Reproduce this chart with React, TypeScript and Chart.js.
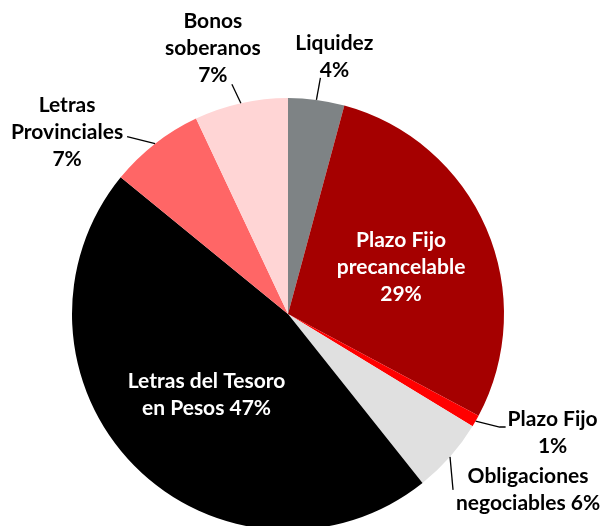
import React, { useEffect, useRef } from "react";
import { Chart, registerables } from "chart.js";

Chart.register(...registerables);

const categories = [
  "Liquidez",
  "Plazo Fijo precancelable",
  "Plazo Fijo",
  "Obligaciones negociables",
  "Letras del Tesoro en Pesos",
  "Letras Provinciales",
  "Bonos soberanos",
];
const values = [4.2, 28.6, 0.9, 5.6, 46.6, 7.1, 7.0];
const labelLines = [
  ["Liquidez", "4%"],
  ["Plazo Fijo", "precancelable", "29%"],
  ["Plazo Fijo", "1%"],
  ["Obligaciones", "negociables 6%"],
  ["Letras del Tesoro", "en Pesos 47%"],
  ["Letras", "Provinciales", "7%"],
  ["Bonos", "soberanos", "7%"],
];
const colors = ["#7E8385", "#A50000", "#FF0000", "#E0E0E0", "#000000", "#FF6666", "#FFD5D5"];

// label placement styles (offsets relative to the slice's outer edge at its mid-angle)
type LabelStyle = {
  inside: boolean;
  ratio?: number;
  dx: number;
  dy: number;
  line?: [number, number][];
};
const labelStyles: LabelStyle[] = [
  { inside: false, dx: 18, dy: -43, line: [[4, -22]] },
  { inside: true, ratio: 0.54, dx: 6, dy: 0 },
  { inside: false, dx: 77, dy: 12, line: [[24, 6], [30, 6]] },
  { inside: false, dx: 78, dy: 33, line: [[3, 33]] },
  { inside: true, ratio: 0.53, dx: 0, dy: 0 },
  { inside: false, dx: -88, dy: -12, line: [[-28, -7]] },
  { inside: false, dx: -28, dy: -55, line: [[-9, -19]] },
];

const FONT = "bold 21px Lato, 'Noto Sans', sans-serif";
const LINE_H = 27;

const labelPlugin = {
  id: "pieLabels",
  afterDatasetsDraw(chart: any) {
    const ctx = chart.ctx as CanvasRenderingContext2D;
    const meta = chart.getDatasetMeta(0);
    ctx.save();
    ctx.font = FONT;
    ctx.textAlign = "center";
    ctx.textBaseline = "middle";
    meta.data.forEach((arc: any, i: number) => {
      const { x, y, startAngle, endAngle, outerRadius } = arc.getProps(
        ["x", "y", "startAngle", "endAngle", "outerRadius"],
        true
      );
      const mid = (startAngle + endAngle) / 2;
      const st = labelStyles[i];
      const lines = labelLines[i];
      let cx: number, cy: number;
      if (st.inside) {
        const r = outerRadius * (st.ratio ?? 0.5);
        cx = x + Math.cos(mid) * r + st.dx;
        cy = y + Math.sin(mid) * r + st.dy;
        ctx.fillStyle = "#FFFFFF";
      } else {
        const ex = x + Math.cos(mid) * outerRadius;
        const ey = y + Math.sin(mid) * outerRadius;
        if (st.line) {
          ctx.strokeStyle = "#000000";
          ctx.lineWidth = 1.3;
          ctx.beginPath();
          ctx.moveTo(ex, ey);
          st.line.forEach(([lx, ly]) => ctx.lineTo(ex + lx, ey + ly));
          ctx.stroke();
        }
        cx = ex + st.dx;
        cy = ey + st.dy;
        ctx.fillStyle = "#000000";
      }
      const top = cy - ((lines.length - 1) * LINE_H) / 2;
      lines.forEach((t, k) => ctx.fillText(t, cx, top + k * LINE_H));
    });
    ctx.restore();
  },
};

export default function App() {
  const ref = useRef<HTMLCanvasElement | null>(null);
  useEffect(() => {
    if (!ref.current) return;
    const chart = new Chart(ref.current, {
      type: "pie",
      data: {
        labels: categories,
        datasets: [
          {
            data: values,
            backgroundColor: colors,
            borderWidth: 0,
          },
        ],
      },
      options: {
        animation: false,
        responsive: false,
        devicePixelRatio: 1,
        layout: { padding: { left: 72, right: 98, top: 98, bottom: 110 } },
        plugins: {
          legend: { display: false },
          tooltip: { enabled: false },
        },
      },
      plugins: [labelPlugin],
    });
    return () => chart.destroy();
  }, []);
  return (
    <div
      style={{
        position: "absolute",
        left: 0,
        top: 0,
        width: 602,
        height: 526,
        overflow: "hidden",
        background: "#FFFFFF",
      }}
    >
      <canvas ref={ref} width={602} height={640} style={{ display: "block" }} />
    </div>
  );
}
